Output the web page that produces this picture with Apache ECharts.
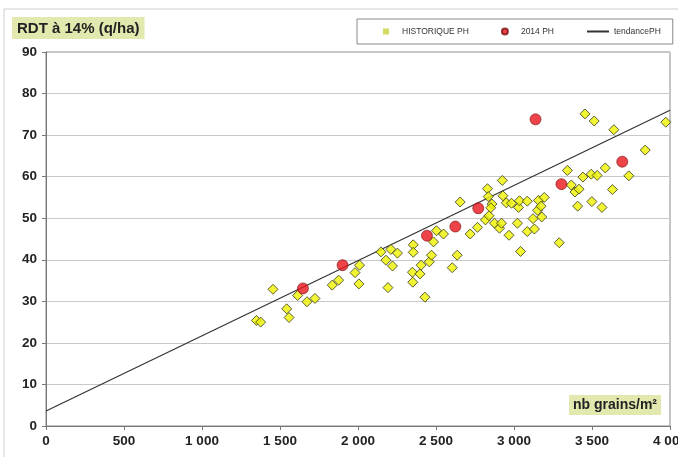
<!DOCTYPE html>
<html>
<head>
<meta charset="utf-8">
<script src="https://cdn.jsdelivr.net/npm/echarts@6/dist/echarts.min.js"></script>
<style>html,body{margin:0;padding:0;background:#fff;}#c{width:678px;height:457px;}</style>
</head>
<body>
<div id="c"></div>
<script>
// Historical points (nb grains/m², RDT q/ha)
const histX = [1349,1376,1455,1543,1558,1613,1673,1724,1835,1876,1981,2006,2010,2147,2179,2192,2211,2221,2253,2354,2354,2349,2397,2351,2404,2429,2457,2471,2484,2503,2548,2604,2636,2655,2719,2766,2817,2840,2830,2835,2859,2851,2875,2907,2920,2925,2929,2951,2968,2984,3029,3035,3022,3042,3085,3085,3122,3131,3151,3157,3173,3178,3194,3290,3342,3367,3391,3417,3408,3442,3495,3533,3499,3564,3585,3631,3736,3841,3455,3514,3640,3973];
const histY = [25.4,25.0,32.9,28.2,26.1,31.4,29.9,30.7,33.9,35.1,36.9,34.2,38.7,41.9,39.9,33.3,42.5,38.5,41.6,43.6,41.8,37.0,36.6,34.6,38.7,31.0,39.5,41.1,44.3,47.0,46.2,38.1,41.1,53.9,46.2,47.8,49.6,50.6,57.1,55.2,53.4,52.5,48.8,47.6,48.8,59.1,55.4,53.7,45.9,53.6,52.6,54.2,48.8,42.0,54.1,46.8,49.9,47.4,51.9,54.3,52.9,50.3,55.0,44.1,61.5,58.0,56.3,57.0,52.9,59.9,60.6,60.3,54.0,52.6,62.1,56.9,60.2,66.4,75.1,73.4,71.3,73.1];
const y2014X = [1647,1901,2442,2624,2771,3138,3304,3694];
const y2014Y = [33.1,38.7,45.8,48.0,52.4,73.8,58.2,63.6];
const trendX = [0,4000];
const trendY = [3.6,76.0];
const xTicks = [0,500,1000,1500,2000,2500,3000,3500,4000];
const yTicks = [0,10,20,30,40,50,60,70,80,90];

const zip = (a,b) => a.map((v,i)=>[v,b[i]]);
const fmt = v => String(v).replace(/\B(?=(\d{3})+(?!\d))/g,' ');
const F = 'Liberation Sans, Arial, sans-serif';

const chart = echarts.init(document.getElementById('c'), null, {renderer:'canvas'});
chart.setOption({
  animation:false,
  backgroundColor:'#fff',
  graphic:[{type:'rect', shape:{x:4,y:9,width:700,height:470}, style:{fill:'none', stroke:'#cfcfcf', lineWidth:1}, z:-1}],
  title:[
    {text:'RDT à 14% (q/ha)', left:12, top:17, backgroundColor:'#e2e8ae', padding:[4,5,3,5],
     textStyle:{fontFamily:F, fontSize:15, fontWeight:'bold', color:'#222'}},
    {text:'nb grains/m²', left:569, top:395, backgroundColor:'#e2e8ae', padding:[3,4,3,4],
     textStyle:{fontFamily:F, fontSize:14, fontWeight:'bold', color:'#222'}}
  ],
  legend:{
    left:357, top:19, width:300, orient:'horizontal',
    borderColor:'#888', borderWidth:1, padding:[8,12,8,26],
    itemWidth:22, itemHeight:6, itemGap:32,
    textStyle:{fontFamily:F, fontSize:8.5, color:'#333'},
    data:[
      {name:'HISTORIQUE PH', icon:'path://M0,0h1v1h-1z', itemStyle:{color:'#c8d23c', borderWidth:0}},
      {name:'2014 PH', icon:'circle'},
      {name:'tendancePH', itemStyle:{opacity:0}}
    ]
  },
  grid:{left:46, right:8, top:52, bottom:31, show:true, borderColor:'#8a8a8a', borderWidth:1, outerBoundsMode:'none', containLabel:false},
  xAxis:{
    type:'value', min:0, max:4000, interval:500,
    axisLine:{show:true, lineStyle:{color:'#777'}},
    axisTick:{show:true, length:4, lineStyle:{color:'#777'}},
    splitLine:{show:false},
    axisLabel:{fontFamily:F, fontSize:13.5, fontWeight:'bold', color:'#222', margin:8, formatter:fmt, hideOverlap:false}
  },
  yAxis:{
    type:'value', min:0, max:90, interval:10,
    axisLine:{show:true, lineStyle:{color:'#777'}},
    axisTick:{show:true, length:4, lineStyle:{color:'#777'}},
    splitLine:{show:true, lineStyle:{color:'#c8c8c8', width:1}},
    axisLabel:{fontFamily:F, fontSize:13.5, fontWeight:'bold', color:'#222', margin:9}
  },
  series:[
    {name:'tendancePH', type:'line', data:zip(trendX,trendY), symbol:'none',
     lineStyle:{color:'#333', width:1.2}, itemStyle:{color:'#333'}, z:3},
    {name:'HISTORIQUE PH', type:'scatter', data:zip(histX,histY), symbol:'diamond', symbolSize:10,
     itemStyle:{color:'#eef200', borderColor:'#3a3a1a', borderWidth:1}, z:4},
    {name:'2014 PH', type:'scatter', data:zip(y2014X,y2014Y), symbol:'circle', symbolSize:11,
     itemStyle:{color:'#e8141c', borderColor:'#7a1010', borderWidth:0.8}, z:5}
  ]
});
</script>
</body>
</html>
